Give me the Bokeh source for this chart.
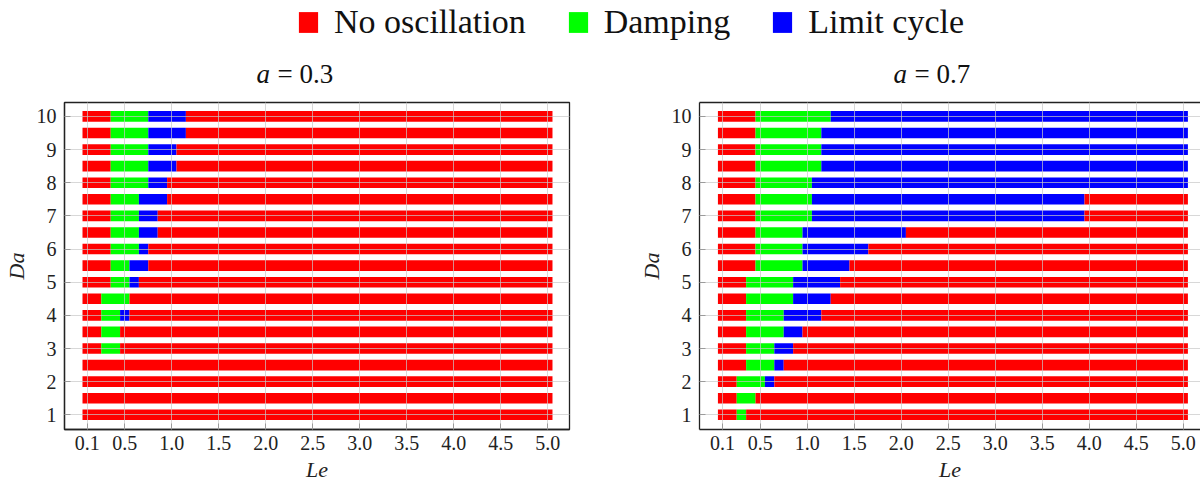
from bokeh.plotting import figure
from bokeh.layouts import column, row
from bokeh.models import (ColumnDataSource, Range1d, FixedTicker, Legend,
                          LegendItem, LinearAxis)
from bokeh.embed import file_html
from bokeh.resources import INLINE
from bokeh.core.properties import value

# ---------------- data ----------------
da_values = [1.0, 1.5, 2.0, 2.5, 3.0, 3.5, 4.0, 4.5, 5.0, 5.5,
             6.0, 6.5, 7.0, 7.5, 8.0, 8.5, 9.0, 9.5, 10.0]
da_ticks = [1, 2, 3, 4, 5, 6, 7, 8, 9, 10]
le_ticks = [0.1, 0.5, 1.0, 1.5, 2.0, 2.5, 3.0, 3.5, 4.0, 4.5, 5.0]
le_first = 0.1
le_last = 5.0
le_step = 0.1

states = ["No oscillation", "Damping", "Limit cycle"]
state_colors = ["#FF0000", "#00FF00", "#0000FF"]

N = None
# a = 0.3 : Le where damping starts, where limit cycle starts, where limit cycle ends
damp_from_a03 = [N, N, N, N, 0.25, 0.25, 0.25, 0.25, 0.35, 0.35,
                 0.35, 0.35, 0.35, 0.35, 0.35, 0.35, 0.35, 0.35, 0.35]
lc_from_a03 = [N, N, N, N, 0.45, 0.45, 0.45, 0.55, 0.55, 0.55,
               0.65, 0.65, 0.65, 0.65, 0.75, 0.75, 0.75, 0.75, 0.75]
lc_to_a03 = [N, N, N, N, 0.45, 0.45, 0.55, 0.55, 0.65, 0.75,
             0.75, 0.85, 0.85, 0.95, 0.95, 1.05, 1.05, 1.15, 1.15]

# a = 0.7
damp_from_a07 = [0.25, 0.25, 0.25, 0.35, 0.35, 0.35, 0.35, 0.35, 0.35, 0.45,
                 0.45, 0.45, 0.45, 0.45, 0.45, 0.45, 0.45, 0.45, 0.45]
lc_from_a07 = [0.35, 0.45, 0.55, 0.65, 0.65, 0.75, 0.75, 0.85, 0.85, 0.95,
               0.95, 0.95, 1.05, 1.05, 1.05, 1.15, 1.15, 1.15, 1.25]
lc_to_a07 = [0.35, 0.45, 0.65, 0.75, 0.85, 0.95, 1.15, 1.25, 1.35, 1.45,
             1.65, 2.05, 3.95, 3.95, 5.05, 5.05, 5.05, 5.05, 5.05]

titles = ["0.3", "0.7"]

SERIF = "Liberation Serif"


def build_segments(damp_from, lc_from, lc_to):
    lo = le_first - le_step / 2
    hi = le_last + le_step / 2
    d = dict(y=[], left=[], right=[], color=[])

    def add(y, l, r, c):
        if r - l > 1e-9:
            d["y"].append(y)
            d["left"].append(l)
            d["right"].append(r)
            d["color"].append(c)

    for y, a, b, c in zip(da_values, damp_from, lc_from, lc_to):
        if a is None:
            add(y, lo, hi, state_colors[0])
            continue
        add(y, lo, a, state_colors[0])
        add(y, a, b, state_colors[1])
        add(y, b, c, state_colors[2])
        add(y, c, hi, state_colors[0])
    return ColumnDataSource(d)


def make_panel(src, frame_width, x_start, x_end, min_right, outline):
    p = figure(frame_width=frame_width, frame_height=327,
               x_range=Range1d(x_start, x_end), y_range=Range1d(0.557, 10.42),
               min_border_left=64, min_border_right=min_right,
               min_border_top=12, min_border_bottom=40,
               toolbar_location=None, output_backend="svg",
               background_fill_color="white", border_fill_color="white")
    p.hbar(y="y", left="left", right="right", height=0.32, fill_color="color",
           line_color=None, source=src)
    p.xaxis.ticker = FixedTicker(ticks=le_ticks)
    p.xaxis.major_label_overrides = {t: f"{t:.1f}" for t in le_ticks}
    p.yaxis.ticker = FixedTicker(ticks=da_ticks)
    p.xgrid.ticker = FixedTicker(ticks=le_ticks)
    p.ygrid.ticker = FixedTicker(ticks=da_ticks)
    for g in (p.xgrid, p.ygrid):
        g.grid_line_color = "#c8c8c8"
        g.grid_line_alpha = 0.7
        g.grid_line_width = 1
        g.level = "overlay"
    for ax in (p.xaxis, p.yaxis):
        ax.axis_line_color = "#222222"
        ax.axis_line_width = 1.3
        ax.major_tick_in = 6
        ax.major_tick_out = 0
        ax.major_tick_line_color = "#333333"
        ax.minor_tick_line_color = None
        ax.major_label_text_font = SERIF
        ax.major_label_text_font_size = "20px"
        ax.major_label_text_color = "#222222"
        ax.axis_label_text_font = SERIF
        ax.axis_label_text_font_style = "italic"
        ax.axis_label_text_font_size = "22px"
        ax.axis_label_text_color = "#222222"
    p.xaxis.axis_label = "Le"
    p.yaxis.axis_label = "Da"
    p.xaxis.major_label_standoff = 6
    p.xaxis.axis_label_standoff = 4
    p.yaxis.major_label_standoff = 8
    p.yaxis.axis_label_standoff = 5
    if outline:
        p.outline_line_color = "#222222"
        p.outline_line_width = 1.3
    else:
        p.outline_line_color = None
        top = LinearAxis(ticker=FixedTicker(ticks=[]), axis_line_color="#222222",
                         axis_line_width=1.3, major_tick_line_color=None,
                         minor_tick_line_color=None, major_label_standoff=0)
        p.add_layout(top, "above")
    return p


p1 = make_panel(build_segments(damp_from_a03, lc_from_a03, lc_to_a03),
                505, -0.1415, 5.231, 66, True)
p2 = make_panel(build_segments(damp_from_a07, lc_from_a07, lc_to_a07),
                501, -0.146, 5.184, 0, False)

# ---------------- header: legend + panel titles ----------------
HW, HH = 1200, 90
h = figure(width=HW, height=HH, x_range=Range1d(0, HW), y_range=Range1d(0, HH),
           x_axis_type=None, y_axis_type=None, toolbar_location=None,
           output_backend="svg", min_border=0, outline_line_color=None)
h.xgrid.visible = False
h.ygrid.visible = False
items = []
for name, col in zip(states, state_colors):
    # legend swatch renderer: its single bar lies far outside the visible range
    r = h.hbar(y=[-1000], left=[0], right=[1], height=1, fill_color=col,
               line_color=None)
    items.append(LegendItem(label=name, renderers=[r]))
leg = Legend(items=items, orientation="horizontal", location=(296, 49),
             glyph_width=24, glyph_height=26, label_standoff=14, spacing=40,
             padding=0, margin=0, border_line_color=None,
             background_fill_alpha=0, label_text_font=SERIF,
             label_text_font_size="34px", label_text_color="#111111")
h.add_layout(leg, "center")

title_x = [256, 893]
for tx, tv in zip(title_x, titles):
    h.text(x=[tx], y=[17], text=["a"], text_font=value(SERIF),
           text_font_style="italic", text_font_size="27px",
           text_align="left", text_baseline="middle", text_color="#111111")
    h.text(x=[tx + 21], y=[17], text=["= " + tv], text_font=value(SERIF),
           text_font_size="27px", text_align="left", text_baseline="middle",
           text_color="#111111")

layout = column(h, row(p1, p2))
open("out.html", "w").write(file_html(layout, INLINE))
